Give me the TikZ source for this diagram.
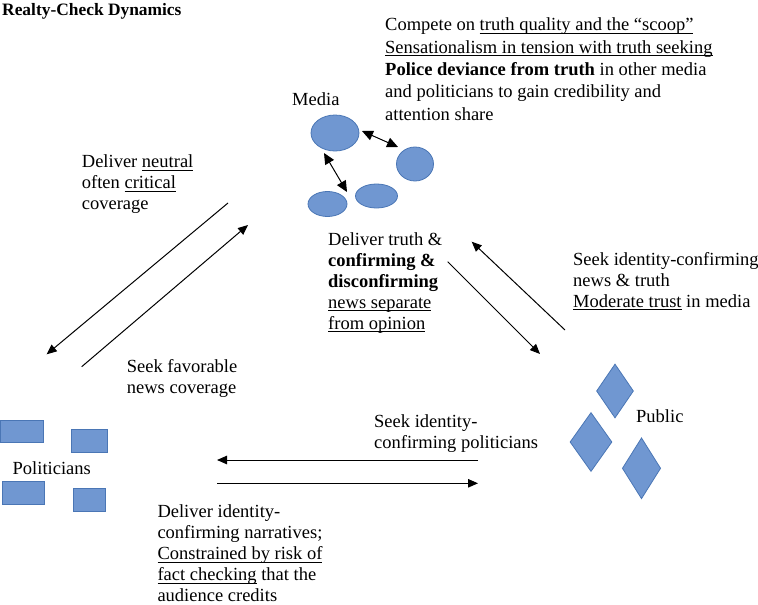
\documentclass[tikz,border=0pt]{standalone}
\usepackage{fontspec}
\setmainfont{Liberation Serif}
\usetikzlibrary{shapes.geometric,arrows.meta}
\definecolor{shapefill}{HTML}{7097D1}
\definecolor{shapeline}{HTML}{4A76B5}
\newcommand\uln[1]{\setbox0\hbox{#1}\rlap{\rule[-2.8pt]{\wd0}{0.7pt}}\box0{}}
\begin{document}
\begin{tikzpicture}[x=1pt,y=-1pt,
  txt/.style={font=\rmfamily\fontsize{18.5}{20.8}\selectfont, align=left, inner sep=0pt, anchor=base west},
  blob/.style={fill=shapefill, draw=shapeline, line width=0.8pt, inner sep=0pt},
  flow/.style={line width=1pt, -{Triangle[length=10pt,width=8.5pt]}},
  link/.style={line width=1pt, {Triangle[length=11pt,width=10pt]}-{Triangle[length=11pt,width=10pt]}}]
\useasboundingbox (0,0) rectangle (758,605);

% title (multi-line nodes are placed by the baseline of their last line)
\node[txt, font=\rmfamily\bfseries\fontsize{17.4}{20}\selectfont] (title) at (2,15) {Realty-Check Dynamics};

% media
\node[txt] (medialbl) at (292,105) {Media};
\node[blob, ellipse, minimum width=48pt, minimum height=36pt] (m1) at (335,133) {};
\node[blob, ellipse, minimum width=37pt, minimum height=34pt] (m2) at (415,164) {};
\node[blob, ellipse, minimum width=42pt, minimum height=24pt] (m3) at (376.5,196) {};
\node[blob, ellipse, minimum width=39pt, minimum height=25pt] (m4) at (327.5,204) {};
\coordinate (a1) at (362,131);
\coordinate (a2) at (398,147);
\coordinate (b1) at (324,153);
\coordinate (b2) at (347,192);
\draw[link] (a1) -- (a2);
\draw[link] (b1) -- (b2);

\node[txt, font=\rmfamily\fontsize{18.5}{22.4}\selectfont] (mediatxt) at (385,120.3) {Compete on \uln{truth quality and the “scoop”}\\
\uln{Sensationalism in tension with truth seeking}\\
\textbf{Police deviance from truth} in other media\\
and politicians to gain credibility and\\
attention share};

% politicians
\node[blob, rectangle, minimum width=43pt, minimum height=22pt] (r1) at (21.5,431) {};
\node[blob, rectangle, minimum width=36pt, minimum height=23pt] (r2) at (89,440.5) {};
\node[blob, rectangle, minimum width=42pt, minimum height=23pt] (r3) at (23,492.5) {};
\node[blob, rectangle, minimum width=32pt, minimum height=23pt] (r4) at (89,499.5) {};
\node[txt] (pollbl) at (12.5,474.5) {Politicians};

% public
\node[blob, diamond, minimum width=37pt, minimum height=54pt] (d1) at (615,391) {};
\node[blob, diamond, minimum width=42pt, minimum height=59pt] (d2) at (591,442) {};
\node[blob, diamond, minimum width=38.4pt, minimum height=61pt] (d3) at (641.5,468.3) {};
\node[txt] (publbl) at (636,422.5) {Public};

% media <-> politicians
\coordinate (mp1) at (228,203);
\coordinate (mp2) at (46.7,354.3);
\coordinate (pm1) at (81.7,366.7);
\coordinate (pm2) at (248,225);
\draw[flow] (mp1) -- (mp2);
\draw[flow] (pm1) -- (pm2);
\node[txt] (neutral) at (81.7,209.5) {Deliver \uln{neutral}\\
often \uln{critical}\\
coverage};
\node[txt] (favor) at (126.7,393.3) {Seek favorable\\
news coverage};

% media <-> public
\coordinate (mu1) at (447.7,261.7);
\coordinate (mu2) at (540,354);
\coordinate (um1) at (565,330);
\coordinate (um2) at (471.7,241.7);
\draw[flow] (mu1) -- (mu2);
\draw[flow] (um1) -- (um2);
\node[txt] (truth) at (328,329) {Deliver truth \&\\
\textbf{confirming \&}\\
\textbf{disconfirming}\\
\uln{news separate}\\
\uln{from opinion}};
\node[txt] (seeknews) at (573,307) {Seek identity-confirming\\
news \& truth\\
\uln{Moderate trust} in media};

% public <-> politicians
\coordinate (up1) at (478,460);
\coordinate (up2) at (217,460);
\coordinate (pu1) at (217,483.3);
\coordinate (pu2) at (478,483.3);
\draw[flow] (up1) -- (up2);
\draw[flow] (pu1) -- (pu2);
\node[txt] (seekpol) at (374,448.7) {Seek identity-\\
confirming politicians};
\node[txt, font=\rmfamily\fontsize{18.5}{21}\selectfont] (narr) at (157.3,601.5) {Deliver identity-\\
confirming narratives;\\
\uln{Constrained by risk of}\\
\uln{fact checking} that the\\
audience credits};
\end{tikzpicture}
\end{document}
